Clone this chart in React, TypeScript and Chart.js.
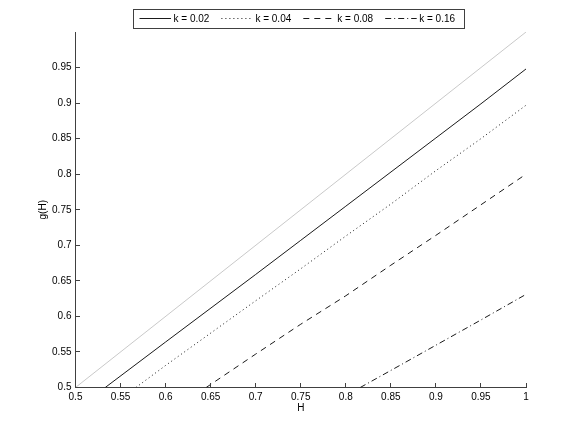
import React, { useEffect, useRef } from "react";
import { Chart, registerables } from "chart.js";

Chart.register(...registerables);

// ---- data ----
const SERIES_LABELS = ["k = 0.02", "k = 0.04", "k = 0.08", "k = 0.16"];

// reference diagonal g(H) = H (light gray, no legend entry)
const H_REF = [0.5, 1.0];
const G_REF = [0.5, 1.0];

const H_K002 = [0.533, 0.6, 0.7, 0.75, 0.8, 0.9, 0.95, 1.0];
const G_K002 = [0.5, 0.564, 0.659, 0.707, 0.755, 0.851, 0.899, 0.948];

const H_K004 = [0.567, 0.6, 0.7, 0.75, 0.8, 0.85, 0.9, 0.95, 1.0];
const G_K004 = [0.5, 0.531, 0.622, 0.667, 0.713, 0.758, 0.805, 0.85, 0.897];

const H_K008 = [0.645, 0.7, 0.75, 0.8, 0.85, 0.9, 0.95, 1.0];
const G_K008 = [0.5, 0.547, 0.589, 0.629, 0.672, 0.714, 0.757, 0.8];

const H_K016 = [0.816, 0.85, 0.9, 0.95, 1.0];
const G_K016 = [0.5, 0.524, 0.5595, 0.595, 0.631];

const X_TICKS = [0.5, 0.55, 0.6, 0.65, 0.7, 0.75, 0.8, 0.85, 0.9, 0.95, 1];
const Y_TICKS = [0.5, 0.55, 0.6, 0.65, 0.7, 0.75, 0.8, 0.85, 0.9, 0.95];

// ---- styles ----
const W = 581;
const H = 436;
const FONT_FAMILY = "'Liberation Sans', Arial, Helvetica, sans-serif";
const AXIS_COLOR = "#404040";
const LINE_COLOR = "#1a1a1a";
const DASHES: number[][] = [[], [1, 3], [6, 5], [6, 3, 1, 3]];

const zip = (xs: number[], ys: number[]) => xs.map((x, i) => ({ x, y: ys[i] }));

const matlabPlugin = {
  id: "matlabDecor",
  afterDraw(chart: any) {
    const ctx: CanvasRenderingContext2D = chart.ctx;
    const { left, bottom } = chart.chartArea;
    const xs = chart.scales.x;
    const ys = chart.scales.y;
    ctx.save();
    // inward tick marks
    ctx.strokeStyle = AXIS_COLOR;
    ctx.lineWidth = 1;
    ctx.setLineDash([]);
    ctx.beginPath();
    const tickLen = 4.5;
    for (const t of xs.ticks) {
      const px = Math.floor(xs.getPixelForValue(t.value)) + 0.5;
      ctx.moveTo(px, bottom);
      ctx.lineTo(px, bottom - tickLen);
    }
    for (const t of ys.ticks) {
      const py = Math.floor(ys.getPixelForValue(t.value)) + 0.5;
      ctx.moveTo(left, py);
      ctx.lineTo(left + tickLen, py);
    }
    ctx.stroke();

    // legend box
    const boxL = 133.5, boxR = 464.5, boxT = 9.5, boxB = 28.5;
    ctx.fillStyle = "#ffffff";
    ctx.fillRect(boxL, boxT, boxR - boxL, boxB - boxT);
    ctx.strokeStyle = AXIS_COLOR;
    ctx.strokeRect(boxL, boxT, boxR - boxL, boxB - boxT);
    const cy = 18.5;
    const step = 81.9;
    ctx.font = `10px ${FONT_FAMILY}`;
    ctx.textBaseline = "middle";
    ctx.textAlign = "left";
    const ds = chart.data.datasets;
    let idx = 0;
    for (let i = 0; i < ds.length; i++) {
      if (!ds[i].showInLegend) continue;
      const x0 = 139.5 + idx * step;
      ctx.strokeStyle = ds[i].borderColor;
      ctx.lineWidth = 1;
      ctx.setLineDash(ds[i].borderDash || []);
      ctx.beginPath();
      ctx.moveTo(x0, cy);
      ctx.lineTo(x0 + 31.5, cy);
      ctx.stroke();
      ctx.setLineDash([]);
      ctx.fillStyle = "#000000";
      ctx.fillText(ds[i].label, x0 + 34, cy + 0.5);
      idx++;
    }
    ctx.restore();
  },
};

export default function App() {
  const canvasRef = useRef<HTMLCanvasElement | null>(null);

  useEffect(() => {
    const canvas = canvasRef.current;
    if (!canvas) return;
    const seriesX = [H_K002, H_K004, H_K008, H_K016];
    const seriesY = [G_K002, G_K004, G_K008, G_K016];
    const datasets: any[] = [
      {
        label: "g(H) = H",
        data: zip(H_REF, G_REF),
        borderColor: "#c9c9c9",
        borderWidth: 1,
        showInLegend: false,
      },
      ...SERIES_LABELS.map((label, i) => ({
        label,
        data: zip(seriesX[i], seriesY[i]),
        borderColor: LINE_COLOR,
        borderWidth: 1,
        borderDash: DASHES[i],
        showInLegend: true,
      })),
    ].map((d) => ({
      ...d,
      showLine: true,
      pointRadius: 0,
      pointHoverRadius: 0,
      tension: 0,
      fill: false,
    }));

    const font = { family: FONT_FAMILY, size: 10 };

    const chart = new Chart(canvas, {
      type: "scatter",
      data: { datasets },
      options: {
        animation: false,
        responsive: false,
        devicePixelRatio: 1,
        events: [],
        layout: { padding: { left: 0, right: W - 526, top: 32, bottom: 0 } },
        plugins: {
          legend: { display: false },
          tooltip: { enabled: false },
        },
        scales: {
          x: {
            type: "linear",
            min: 0.5,
            max: 1,
            afterBuildTicks: (s: any) => {
              s.ticks = X_TICKS.map((v) => ({ value: v }));
            },
            afterFit: (s: any) => {
              s.height = H - 387.5;
            },
            grid: { display: false, drawTicks: false },
            border: { display: true, color: AXIS_COLOR, width: 1 },
            ticks: {
              font,
              color: "#000",
              padding: 4,
              maxRotation: 0,
              autoSkip: false,
              callback: (v: any) => String(v),
            },
            title: {
              display: true,
              text: "H",
              font,
              color: "#000",
              padding: { top: 0, bottom: 21.5 },
            },
          },
          y: {
            type: "linear",
            min: 0.5,
            max: 1,
            afterBuildTicks: (s: any) => {
              s.ticks = Y_TICKS.map((v) => ({ value: v }));
            },
            afterFit: (s: any) => {
              s.width = 75.5;
            },
            grid: { display: false, drawTicks: false },
            border: { display: true, color: AXIS_COLOR, width: 1 },
            ticks: {
              font,
              color: "#000",
              padding: 4,
              autoSkip: false,
              callback: (v: any) => String(v),
            },
            title: {
              display: true,
              text: "g(H)",
              font,
              color: "#000",
              padding: { top: 37.5, bottom: 0 },
            },
          },
        },
      } as any,
      plugins: [matlabPlugin as any],
    });
    return () => chart.destroy();
  }, []);

  return (
    <div
      style={{
        position: "fixed",
        left: 0,
        top: 0,
        width: W,
        height: H,
        background: "#ffffff",
      }}
    >
      <canvas ref={canvasRef} width={W} height={H} style={{ width: W, height: H, display: "block" }} />
    </div>
  );
}
